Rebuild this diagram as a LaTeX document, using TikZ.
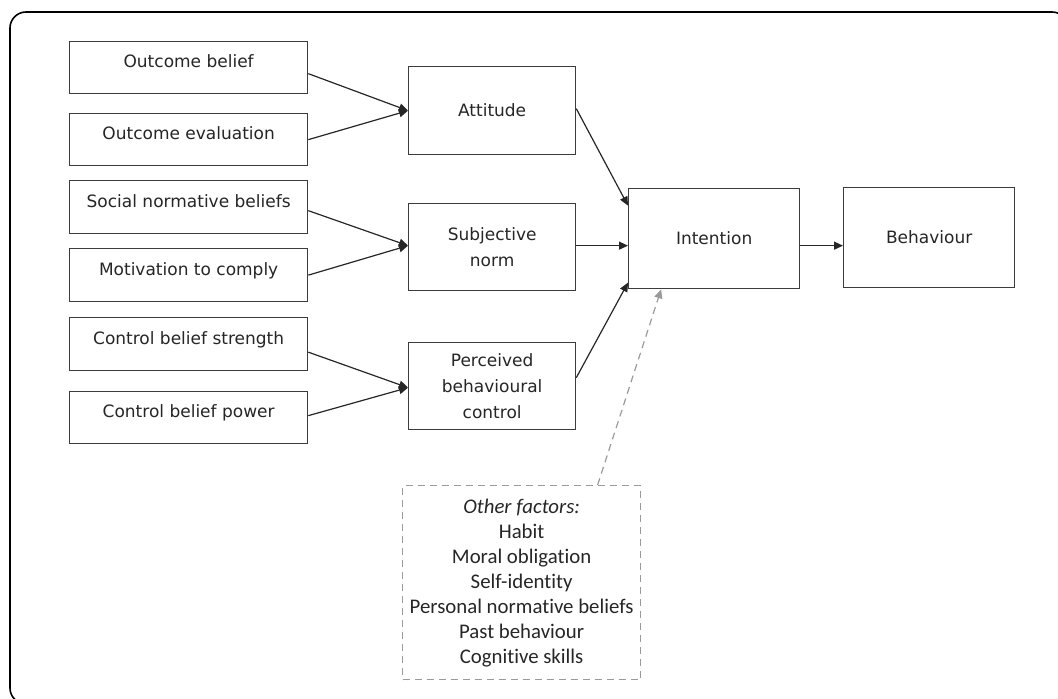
\documentclass[tikz,border=0pt]{standalone}
\usepackage{fontspec}
\setmainfont{DejaVu Sans}
\newfontfamily\calib[Ligatures=NoCommon]{Carlito}
\usetikzlibrary{arrows.meta,calc}
\definecolor{ink}{HTML}{262626}
\definecolor{boxc}{HTML}{3C3C3C}
\definecolor{dashc}{HTML}{9A9A9A}
\begin{document}
\begin{tikzpicture}[x=1pt,y=-1pt,
  box/.style={draw=boxc, line width=1.3pt, fill=white, text=ink,
    font=\fontsize{17}{26}\selectfont, inner sep=0pt, align=center, anchor=north west},
  lbox/.style={box, minimum width=238pt, text height=13pt, text depth=13pt},
  mbox/.style={box, minimum width=167pt},
  arr/.style={draw=ink, line width=1.2pt, -{Triangle[length=9pt,width=8pt]}},
  darr/.style={draw=dashc, line width=1.2pt, dash pattern=on 7pt off 5pt, -{Triangle[length=9pt,width=8pt]}},
  otherbox/.style={draw=dashc, line width=1.2pt, dash pattern=on 7pt off 5pt, text=ink, inner sep=0pt,
    align=center, anchor=north west, minimum width=238pt, minimum height=194pt,
    font=\calib\fontsize{20.8}{25}\selectfont},
  frame/.style={draw=black, line width=1.6pt, rounded corners=16pt}
]
\useasboundingbox (0,0) rectangle (1058,699);
\begin{scope}
  \clip (0,0) rectangle (1058,699);
  \draw[frame] (10,12) rectangle (1068,704);
\end{scope}

% left boxes
\node[lbox, minimum height=52pt] (ob)  at (69,41)  {Outcome belief};
\node[lbox, minimum height=52pt] (oe)  at (69,113) {Outcome evaluation};
\node[lbox, minimum height=53pt] (snb) at (69,180) {Social normative beliefs};
\node[lbox, minimum height=53pt] (mtc) at (69,248) {Motivation to comply};
\node[lbox, minimum height=53pt] (cbs) at (69,317) {Control belief strength};
\node[lbox, minimum height=52pt] (cbp) at (69,391) {Control belief power};

% middle boxes
\node[mbox, minimum height=88pt] (att) at (408,66)  {Attitude};
\node[mbox, minimum height=87pt] (sn)  at (408,203) {Subjective\\norm};
\node[mbox, minimum height=87pt] (pbc) at (408,342) {Perceived\\behavioural\\control};

% right boxes
\node[box, minimum width=171pt, minimum height=100pt] (int) at (628,188) {Intention};
\node[box, minimum width=171pt, minimum height=100pt] (beh) at (843,187) {Behaviour};

% other factors
\node[otherbox] (of) at (402,485) {\textit{Other factors:}\\Habit\\Moral obligation\\Self-identity\\Personal normative beliefs\\Past behaviour\\Cognitive skills};

% connectors
\draw[arr] ([yshift=-6pt]ob.east) -- (att.west);
\draw[arr] (oe.east) -- (att.west);
\draw[arr] ([yshift=-3.5pt]snb.east) -- ([yshift=1.5pt]sn.west);
\draw[arr] (mtc.east) -- ([yshift=1.5pt]sn.west);
\draw[arr] ([yshift=-8pt]cbs.east) -- ([yshift=-1.5pt]pbc.west);
\draw[arr] ([yshift=2pt]cbp.east) -- ([yshift=-1.5pt]pbc.west);

\draw[arr] ([yshift=2pt]att.east) -- ([yshift=33pt]int.west);
\draw[arr] ([yshift=1.5pt]sn.east) -- ([yshift=1.5pt]sn.east -| int.west);
\draw[arr] ([yshift=8.5pt]pbc.east) -- ([yshift=-44pt]int.west);
\draw[arr] ([yshift=-7pt]int.east) -- ([yshift=-7pt]int.east -| beh.west);
\draw[darr] ([xshift=76pt]of.north) -- ([xshift=-53pt]int.south);
\end{tikzpicture}
\end{document}
